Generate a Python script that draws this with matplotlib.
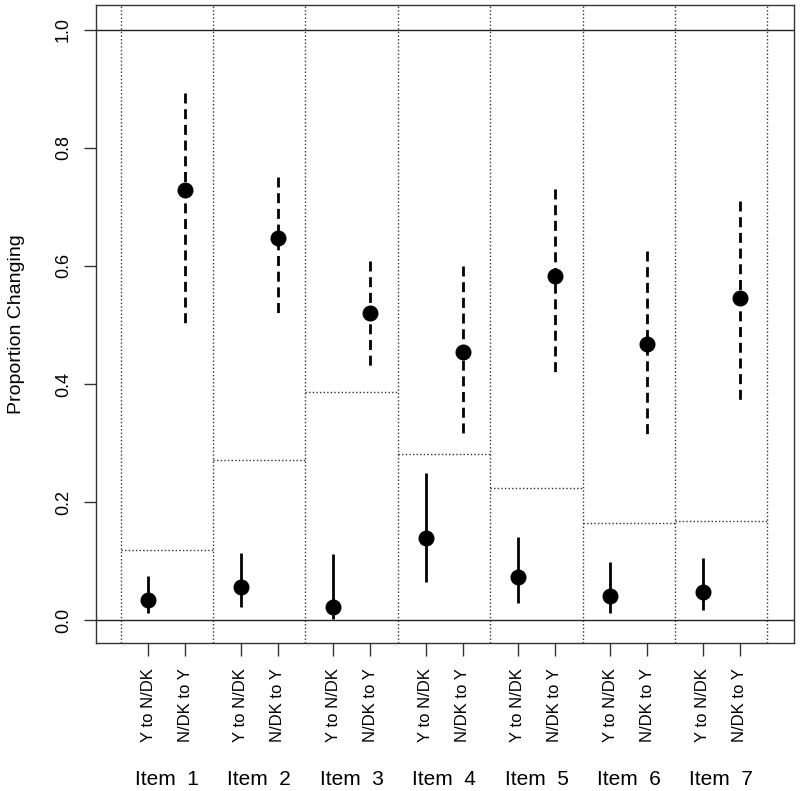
import matplotlib.pyplot as plt
import numpy as np

plt.rcParams['font.family'] = ['Liberation Sans', 'DejaVu Sans']

# estimated values
items = ['Item  1', 'Item  2', 'Item  3', 'Item  4', 'Item  5', 'Item  6', 'Item  7']
pair_labels = ['Y to N/DK', 'N/DK to Y']

y_to_n = [0.035, 0.056, 0.023, 0.140, 0.073, 0.041, 0.048]
y_to_n_lo = [0.012, 0.022, 0.002, 0.065, 0.030, 0.012, 0.017]
y_to_n_hi = [0.075, 0.115, 0.112, 0.249, 0.142, 0.099, 0.106]

n_to_y = [0.728, 0.647, 0.521, 0.455, 0.583, 0.467, 0.545]
n_to_y_lo = [0.498, 0.519, 0.429, 0.315, 0.421, 0.312, 0.368]
n_to_y_hi = [0.893, 0.751, 0.608, 0.599, 0.730, 0.626, 0.709]

# dotted reference level per item
baseline = [0.119, 0.272, 0.387, 0.281, 0.225, 0.165, 0.168]

n = len(items)
grp = np.arange(n)
x1 = grp + 0.3
x2 = grp + 0.7

fig = plt.figure(figsize=(8, 7.91), dpi=100)
ax = fig.add_axes([0.1196, 0.1875, 0.8729, 0.8058])

dot = (0, (1, 1.6))
# item separators
for k in range(n + 1):
    ax.axvline(k, color='#333333', lw=1, ls=dot, zorder=1)
ax.hlines(baseline, grp, grp + 1, colors='#333333', lw=1, linestyles=dot, zorder=1)

ax.axhline(0, color='#222222', lw=1, zorder=1)
ax.axhline(1, color='#222222', lw=1, zorder=1)

# intervals
ax.vlines(x1, y_to_n_lo, y_to_n_hi, colors='black', lw=2, zorder=2)
for xx, lo, hi in zip(x2, n_to_y_lo, n_to_y_hi):
    ax.plot([xx, xx], [hi, lo], color='black', lw=2, dashes=(3.6, 2.05), zorder=2)

ax.plot(x1, y_to_n, 'o', color='black', ms=10.5, zorder=3)
ax.plot(x2, n_to_y, 'o', color='black', ms=10.5, zorder=3)

ax.set_xlim(-0.27, 7.287)
ax.set_ylim(-0.0376, 1.041)

ax.set_yticks([0.0, 0.2, 0.4, 0.6, 0.8, 1.0])
ax.set_yticklabels(['0.0', '0.2', '0.4', '0.6', '0.8', '1.0'], rotation=90, va='center')
ax.tick_params(axis='y', length=9, width=1, color='#333333', pad=8, labelsize=13)

xt = np.sort(np.concatenate([x1, x2]))
ax.set_xticks(xt)
ax.set_xticklabels(pair_labels * n, rotation=90, va='top', ha='center')
ax.tick_params(axis='x', length=9, width=1, color='#333333', pad=9, labelsize=12)

for k, lab in enumerate(items):
    ax.text(k + 0.5, -0.214, lab, transform=ax.get_xaxis_transform(),
            ha='center', va='center', fontsize=15)

ax.set_ylabel('Proportion Changing', fontsize=14, labelpad=22)

for s in ax.spines.values():
    s.set_color('#333333')
    s.set_linewidth(1)

plt.savefig('out.png', dpi=100)
